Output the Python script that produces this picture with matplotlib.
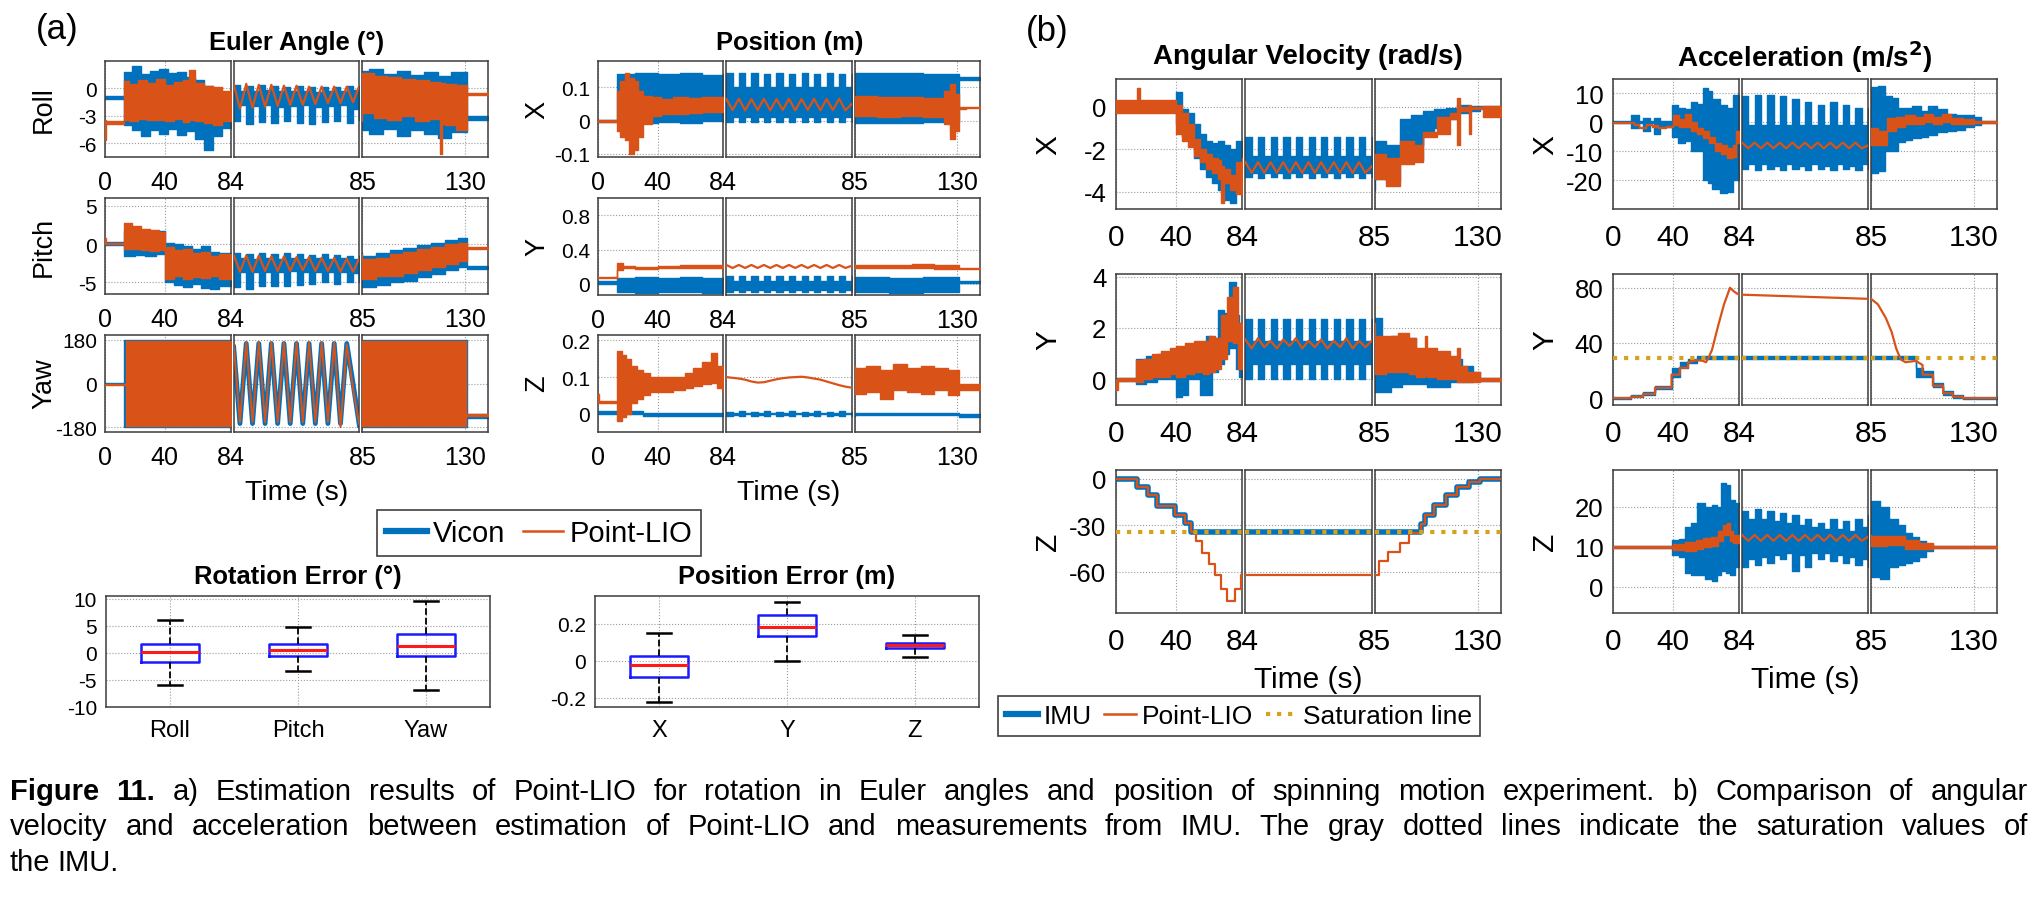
import matplotlib
matplotlib.use('Agg')
import matplotlib.pyplot as plt
from matplotlib import font_manager
from matplotlib.lines import Line2D

plt.rcParams['font.family'] = ['Liberation Sans', 'DejaVu Sans']
plt.rcParams['axes.unicode_minus'] = False

BLUE = '#0072BD'
ORANGE = '#D95319'
GOLD = '#D4A21C'
EDGE = '#3c3c3c'
W, H = 2036, 904

# ---------------- data ----------------
# time samples of the zoomed middle window 84 s - 85 s
t_mid = [84.0, 84.05, 84.1, 84.15, 84.2, 84.25, 84.3, 84.35, 84.4, 84.45, 84.5,
         84.55, 84.6, 84.65, 84.7, 84.75, 84.8, 84.85, 84.9, 84.95, 85.0]

# Roll (deg)
roll_vic_t = [0, 13, 18, 24, 30, 36, 42, 48, 54, 60, 66, 72, 78, 84,
              85, 88, 94, 100, 106, 112, 118, 124, 131, 140]
roll_vic_hi = [-0.8, 1.8, 2.4, 1.6, 1.9, 2.1, 1.7, 1.8, 1.2, 0.9, 0.3, -0.4, -0.9, -0.9,
               1.9, 2.1, 1.6, 1.9, 1.5, 1.8, 1.4, 1.8, -3.0, -3.0]
roll_vic_lo = [-1.2, -4.0, -4.6, -5.2, -4.6, -5.0, -4.4, -5.1, -4.7, -5.5, -6.7, -5.2, -4.3, -4.3,
               -4.6, -5.0, -4.4, -5.2, -4.6, -5.0, -5.4, -4.8, -3.4, -3.4]
roll_vic_mid_hi = [0.4, -0.3, 0.3, -0.3, 0.4, -0.2, 0.3, -0.3, 0.2, -0.3, 0.3,
                   -0.3, 0.2, -0.4, 0.2, -0.3, 0.2, -0.3, 0.3, -0.2, 0.3]
roll_vic_mid_lo = [-3.6, -1.8, -3.9, -1.9, -3.7, -1.8, -3.8, -2.0, -3.6, -1.9, -3.8,
                   -1.8, -3.9, -2.0, -3.7, -1.9, -3.6, -1.8, -3.8, -2.2, -3.5]
roll_lio_t = [0, 1, 2, 13, 16, 22, 28, 34, 40, 46, 52, 56, 60, 66, 72, 78, 84,
              85, 90, 96, 102, 108, 114, 119, 120, 121, 126, 131, 140]
roll_lio_hi = [-3.5, -3.55, -3.55, 0.8, 0.5, 0.9, 0.6, 1.0, 0.4, 0.7, 0.9, 2.0, 0.6, 0.3, 0.2, -0.3, -0.3,
               1.7, 1.4, 1.2, 1.0, 0.9, 0.7, 0.6, 0.6, 0.5, 0.4, -0.45, -0.45]
roll_lio_lo = [-5.6, -3.85, -3.85, -3.4, -3.6, -3.3, -3.5, -3.4, -3.6, -3.3, -3.7, -3.5, -3.6, -3.8, -4.0, -3.6, -3.6,
               -2.7, -3.2, -3.5, -3.0, -3.6, -3.3, -7.2, -3.9, -4.0, -4.6, -0.75, -0.75]
roll_lio_mid = [0.5, -2.2, 0.5, -2.1, 0.4, -2.0, 0.4, -1.9, 0.3, -1.8, 0.3,
                -1.8, 0.2, -1.7, 0.2, -1.6, 0.2, -1.6, 0.2, -1.5, 0.3]

# Pitch (deg)
pitch_vic_t = [0, 13, 20, 27, 34, 40, 46, 52, 58, 64, 70, 76, 84,
               85, 91, 97, 103, 109, 115, 121, 127, 131, 140]
pitch_vic_hi = [0.3, 1.7, 1.6, 1.5, 1.7, 0.2, 0.0, -0.3, -0.6, -0.2, -1.0, -1.2, -1.2,
                -1.6, -1.2, -0.8, -0.5, -0.1, 0.2, 0.5, 0.8, -2.8, -2.8]
pitch_vic_lo = [-0.1, -1.6, -1.4, -1.5, -1.3, -4.9, -5.3, -5.6, -5.2, -5.7, -5.9, -5.5, -5.5,
                -5.6, -5.3, -4.9, -4.8, -4.3, -3.9, -3.4, -3.0, -3.2, -3.2]
pitch_vic_mid_hi = [-1.2, -1.8, -1.3, -1.9, -1.2, -1.8, -1.3, -1.9, -1.2, -1.8, -1.3,
                    -1.9, -1.4, -1.8, -1.3, -1.9, -1.4, -1.8, -1.5, -2.0, -1.5]
pitch_vic_mid_lo = [-5.6, -3.6, -5.8, -3.6, -5.4, -3.7, -5.5, -3.6, -5.4, -3.5, -5.3,
                    -3.6, -5.2, -3.6, -5.0, -3.7, -5.2, -3.6, -5.0, -3.8, -5.0]
pitch_lio_t = [0, 1, 2, 13, 18, 24, 30, 36, 40, 46, 52, 58, 64, 70, 76, 84,
               85, 91, 97, 103, 109, 115, 121, 127, 131, 140]
pitch_lio_hi = [0.8, 0.2, 0.2, 2.8, 2.3, 2.0, 1.8, 1.6, -0.4, -0.8, -0.7, -1.2, -1.0, -1.5, -1.3, -1.3,
                -2.0, -1.8, -1.3, -1.0, -0.6, -0.4, 0.0, 0.2, -0.4, -0.4]
pitch_lio_lo = [0.0, 0.0, 0.0, -0.6, -0.7, -0.8, -0.9, -0.8, -4.5, -4.2, -4.6, -4.3, -4.4, -4.2, -4.5, -4.5,
                -4.6, -4.2, -4.1, -3.8, -3.4, -3.0, -2.6, -2.2, -0.7, -0.7]
pitch_lio_mid = [-1.4, -3.6, -1.5, -3.6, -1.5, -3.5, -1.6, -3.5, -1.6, -3.5, -1.7,
                 -3.4, -1.7, -3.5, -1.8, -3.5, -1.8, -3.6, -1.9, -3.6, -1.8]

# Yaw (deg)
yaw_vic_t = [0, 13, 84, 85, 131, 140]
yaw_vic_hi = [3, 180, 180, 180, -127, -127]
yaw_vic_lo = [-3, -180, -180, -180, -141, -141]
yaw_lio_t = [0, 14, 84, 85, 130.5, 140]
yaw_lio_hi = [-1, 176, 176, 176, -126, -126]
yaw_lio_lo = [-5, -176, -176, -176, -132, -132]
yaw_vic_mid = [150, -165, 165, -165, 165, -165, 165, -165, 165, -165, 165,
               -165, 165, -165, 165, -165, 165, -165, 165, 0, -172]
yaw_lio_mid = [160, -160, 170, -160, 170, -160, 170, -160, 170, -160, 170,
               -160, 170, -160, 170, -160, 170, -180, 160, -20, -170]

# Position X (m)
posx_vic_t = [0, 13, 25, 40, 55, 70, 84, 85, 100, 115, 131, 140]
posx_vic_hi = [0.003, 0.142, 0.145, 0.14, 0.143, 0.138, 0.14, 0.143, 0.145, 0.14, 0.131, 0.131]
posx_vic_lo = [-0.003, -0.004, -0.008, -0.003, -0.006, -0.002, -0.004, -0.006, -0.008, -0.005, 0.124, 0.124]
posx_vic_mid_hi = [0.143, 0.1, 0.143, 0.1, 0.143, 0.1, 0.142, 0.1, 0.143, 0.1, 0.142,
                   0.1, 0.143, 0.1, 0.142, 0.1, 0.143, 0.1, 0.142, 0.1, 0.142]
posx_vic_mid_lo = [-0.005, 0.012, -0.005, 0.012, -0.004, 0.012, -0.005, 0.012, -0.004, 0.012, -0.005,
                   0.012, -0.004, 0.012, -0.005, 0.012, -0.004, 0.012, -0.005, 0.012, -0.004]
posx_lio_t = [0, 13, 15, 18, 21, 24, 27, 30, 36, 42, 50, 60, 70, 84,
              85, 95, 105, 115, 124, 127, 129, 131, 134, 140]
posx_lio_hi = [0.003, 0.09, 0.12, 0.145, 0.13, 0.12, 0.09, 0.075, 0.07, 0.065, 0.07, 0.068, 0.07, 0.07,
               0.075, 0.07, 0.072, 0.068, 0.09, 0.11, 0.08, 0.04, 0.042, 0.045]
posx_lio_lo = [-0.003, -0.03, -0.05, -0.06, -0.1, -0.09, -0.05, -0.01, 0.015, 0.02, 0.02, 0.022, 0.025, 0.025,
               0.015, 0.012, 0.015, 0.012, -0.01, -0.055, -0.03, 0.035, 0.037, 0.04]
posx_lio_mid = [0.065, 0.032, 0.066, 0.031, 0.065, 0.032, 0.066, 0.031, 0.065, 0.032, 0.066,
                0.031, 0.065, 0.032, 0.066, 0.031, 0.065, 0.032, 0.066, 0.031, 0.05]

# Position Y (m)
posy_vic_t = [0, 13, 25, 40, 55, 70, 84, 85, 100, 115, 131, 140]
posy_vic_hi = [0.035, 0.07, 0.08, 0.07, 0.075, 0.07, 0.07, 0.075, 0.07, 0.075, 0.035, 0.035]
posy_vic_lo = [0.0, -0.1, -0.11, -0.1, -0.1, -0.11, -0.1, -0.1, -0.11, -0.1, 0.005, 0.005]
posy_vic_mid_hi = [0.09, 0.03, 0.09, 0.03, 0.09, 0.03, 0.09, 0.03, 0.09, 0.03, 0.09,
                   0.03, 0.09, 0.03, 0.09, 0.03, 0.09, 0.03, 0.09, 0.03, 0.09]
posy_vic_mid_lo = [-0.1, -0.07, -0.1, -0.07, -0.1, -0.07, -0.1, -0.07, -0.1, -0.07, -0.1,
                   -0.07, -0.1, -0.07, -0.1, -0.07, -0.1, -0.07, -0.1, -0.07, -0.1]
posy_lio_t = [0, 13, 17, 25, 40, 55, 70, 84, 85, 100, 110, 120, 131, 140]
posy_lio_hi = [0.085, 0.24, 0.21, 0.2, 0.21, 0.215, 0.22, 0.22, 0.22, 0.22, 0.235, 0.22, 0.185, 0.185]
posy_lio_lo = [0.065, 0.16, 0.18, 0.175, 0.18, 0.19, 0.19, 0.19, 0.185, 0.18, 0.185, 0.175, 0.17, 0.17]
posy_lio_mid = [0.22, 0.185, 0.22, 0.185, 0.22, 0.185, 0.22, 0.185, 0.22, 0.185, 0.22,
                0.185, 0.22, 0.185, 0.22, 0.185, 0.22, 0.185, 0.22, 0.185, 0.21]

# Position Z (m)
posz_vic_t = [0, 30, 84, 85, 131, 140]
posz_vic_hi = [0.007, 0.002, 0.002, 0.003, -0.002, -0.002]
posz_vic_lo = [0.0, -0.005, -0.005, -0.004, -0.01, -0.01]
posz_vic_mid_hi = [0.006, 0.003, 0.007, 0.002, 0.006, 0.003, 0.007, 0.002, 0.006, 0.003, 0.007,
                   0.002, 0.006, 0.003, 0.007, 0.002, 0.006, 0.003, 0.007, 0.002, 0.006]
posz_vic_mid_lo = [-0.006, -0.003, -0.007, -0.002, -0.006, -0.003, -0.007, -0.002, -0.006, -0.003, -0.007,
                   -0.002, -0.006, -0.003, -0.007, -0.002, -0.006, -0.003, -0.007, -0.002, -0.006]
posz_lio_t = [0, 1, 13, 16, 19, 22, 26, 30, 35, 42, 50, 58, 64, 70, 76, 80, 84,
              85, 90, 96, 102, 108, 114, 120, 126, 131, 140]
posz_lio_hi = [0.055, 0.035, 0.17, 0.16, 0.15, 0.13, 0.12, 0.11, 0.1, 0.1, 0.1, 0.11, 0.125, 0.14, 0.165, 0.13, 0.13,
               0.125, 0.13, 0.12, 0.135, 0.125, 0.13, 0.125, 0.12, 0.08, 0.08]
posz_lio_lo = [0.03, 0.03, -0.02, -0.01, 0.0, 0.03, 0.04, 0.05, 0.06, 0.06, 0.065, 0.07, 0.075, 0.08, 0.085, 0.07, 0.06,
               0.055, 0.06, 0.04, 0.065, 0.06, 0.055, 0.065, 0.05, 0.065, 0.065]
posz_lio_mid = [0.1, 0.098, 0.096, 0.093, 0.088, 0.085, 0.086, 0.09, 0.094, 0.097, 0.099,
                0.1, 0.101, 0.099, 0.096, 0.093, 0.088, 0.083, 0.078, 0.074, 0.071]

# Angular velocity X (rad/s)
angx_vic_t = [0, 40, 44, 48, 52, 56, 60, 64, 68, 72, 76, 80, 84,
              85, 90, 96, 101, 106, 111, 116, 121, 126, 131, 140]
angx_vic_hi = [0.05, 0.7, -0.1, -0.3, -0.8, -1.3, -1.6, -1.7, -1.6, -1.8, -2.0, -1.6, -1.6,
               -1.6, -1.8, -0.6, -0.4, -0.2, -0.1, -0.05, 0.1, 0.05, 0.03, 0.03]
angx_vic_lo = [-0.05, -0.8, -1.4, -1.6, -2.4, -2.9, -3.3, -3.6, -3.9, -4.4, -4.5, -3.9, -3.9,
               -3.4, -3.5, -2.4, -2.5, -1.2, -1.0, -0.6, -0.3, -0.2, -0.03, -0.03]
angx_vic_mid_hi = [-1.4, -2.3, -1.4, -2.3, -1.4, -2.3, -1.4, -2.3, -1.4, -2.3, -1.4,
                   -2.3, -1.4, -2.3, -1.4, -2.3, -1.4, -2.3, -1.4, -2.3, -1.4]
angx_vic_mid_lo = [-3.3, -3.1, -3.35, -3.1, -3.3, -3.1, -3.35, -3.1, -3.3, -3.1, -3.35,
                   -3.1, -3.3, -3.1, -3.35, -3.1, -3.3, -3.1, -3.35, -3.1, -3.3]
angx_lio_t = [0, 14, 16, 40, 44, 48, 52, 56, 60, 64, 68, 70, 72, 76, 80, 84,
              85, 90, 96, 102, 106, 112, 118, 121, 122, 126, 127, 132, 140]
angx_lio_hi = [0.3, 0.9, 0.3, 0.1, -0.3, -0.8, -1.5, -2.0, -2.2, -2.4, -2.5, -2.8, -2.9, -3.2, -2.6, -2.4,
               -2.2, -2.4, -1.6, -1.8, -1.2, -0.5, -0.3, 0.4, 0.0, 0.1, 0.0, 0.05, 0.05]
angx_lio_lo = [-0.3, -0.3, -0.3, -1.3, -1.6, -1.9, -2.3, -2.6, -2.9, -3.1, -3.4, -4.5, -3.6, -3.9, -4.1, -3.2,
               -3.4, -3.7, -2.7, -2.6, -1.4, -1.3, -0.6, -1.8, -0.2, -1.3, -0.1, -0.5, -0.03]
angx_lio_mid = [-2.6, -3.1, -2.6, -3.1, -2.6, -3.1, -2.6, -3.1, -2.6, -3.1, -2.6,
                -3.1, -2.6, -3.1, -2.6, -3.1, -2.6, -3.1, -2.6, -3.1, -2.8]

# Angular velocity Y (rad/s)
angy_vic_t = [0, 13, 20, 27, 34, 40, 44, 48, 52, 56, 60, 64, 68, 72, 75, 80, 82, 84,
              85, 88, 92, 97, 103, 108, 113, 118, 123, 128, 131, 140]
angy_vic_hi = [0.05, 0.8, 0.9, 1.0, 1.0, 1.1, 1.0, 1.2, 1.3, 1.4, 1.7, 1.6, 2.7, 2.6, 3.8, 2.5, 2.2, 2.2,
               2.4, 1.6, 1.7, 1.6, 1.1, 1.0, 0.9, 0.8, 0.5, 0.3, 0.05, 0.05]
angy_vic_lo = [-0.05, -0.2, -0.1, 0.0, 0.0, -0.7, -0.6, 0.0, 0.0, -0.6, -0.6, 0.3, 0.6, 1.0, 1.2, 0.4, 0.1, 0.1,
               -0.5, -0.5, -0.3, -0.2, -0.2, -0.3, -0.3, -0.1, -0.1, -0.05, -0.05, -0.05]
angy_vic_mid_hi = [2.35, 1.5, 2.35, 1.5, 2.35, 1.5, 2.35, 1.5, 2.35, 1.5, 2.35,
                   1.5, 2.35, 1.5, 2.35, 1.5, 2.35, 1.5, 2.35, 1.5, 2.35]
angy_vic_mid_lo = [0.0, 0.6, 0.0, 0.6, 0.0, 0.6, 0.0, 0.6, 0.0, 0.6, 0.0,
                   0.6, 0.0, 0.6, 0.0, 0.6, 0.0, 0.6, 0.0, 0.6, 0.0]
angy_lio_t = [0, 1, 13, 18, 24, 30, 36, 40, 46, 52, 58, 62, 66, 70, 74, 78, 81, 84,
              85, 90, 95, 100, 103, 107, 108, 112, 118, 121, 122, 125, 131, 140]
angy_lio_hi = [0.0, 0.05, 0.75, 0.8, 1.0, 1.1, 1.2, 1.3, 1.4, 1.5, 1.5, 1.7, 1.6, 2.5, 3.2, 3.6, 2.2, 2.2,
               1.7, 1.7, 1.8, 1.6, 1.2, 1.7, 1.2, 1.1, 0.9, 1.2, 0.5, 0.3, 0.05, 0.05]
angy_lio_lo = [-0.4, -0.05, -0.1, 0.0, 0.1, 0.1, 0.2, 0.1, 0.2, 0.3, 0.2, 0.3, 0.4, 0.8, 1.5, 1.4, 0.4, 0.4,
               0.2, 0.3, 0.3, 0.2, 0.1, 0.2, 0.1, 0.0, 0.0, -0.1, -0.1, -0.1, -0.05, -0.05]
angy_lio_mid = [1.55, 1.2, 1.6, 1.25, 1.5, 1.2, 1.55, 1.3, 1.6, 1.2, 1.5,
                1.25, 1.55, 1.2, 1.5, 1.25, 1.6, 1.2, 1.5, 1.25, 1.5]

# Angular velocity Z (rad/s)
angz_vic_t = [0, 14, 21.5, 27, 39, 46, 50, 84, 85, 105, 107, 111, 116, 121, 126, 131, 140]
angz_vic = [0, -5, -10.5, -17.5, -23, -28.5, -34, -34, -34, -29, -23, -17, -10.5, -5, -2, 0, 0]
angz_lio_t = [0, 14, 21.5, 27, 39, 46, 50, 53, 57, 62, 66, 70, 74, 79, 83, 84,
              85, 87, 91, 96, 100, 105, 107, 111, 116, 121, 126, 131, 140]
angz_lio = [0, -5, -10.5, -17.5, -23, -28.5, -34, -40, -48, -55, -62, -71, -79, -71, -62, -62,
            -62, -53, -47, -41, -35, -29, -23, -17, -10.5, -5, -2, 0, 0]
angz_sat = -34

# Acceleration X (m/s^2)
accx_vic_t = [0, 12, 17, 20, 24.5, 27, 31, 39, 43.5, 48, 52, 56, 60, 63, 66, 71, 76, 80, 84,
              85, 88, 91, 94, 97, 100, 103, 107, 110, 114, 118, 122, 126, 130, 133, 140]
accx_vic_hi = [0.3, 2.5, 0.3, 1.5, 0.3, 1.5, 0.5, 6, 5, 4.5, 7, 6.5, 12, 11, 8, 6, 5, 9.5, 9.5,
               12.3, 12.5, 9, 8.5, 4.8, 5, 5.5, 4, 5.5, 4.5, 3, 2.5, 2.5, 2, 0.3, 0.3]
accx_vic_lo = [-0.3, -2, -0.3, -3, -0.3, -4, -1.5, -5, -7, -6.5, -10, -10, -20, -21, -23, -24.5, -24, -20, -20,
               -17.5, -17, -10, -10, -6.7, -6, -5.5, -5, -4.5, -3.5, -3, -2.5, -1.5, -1, -0.3, -0.3]
accx_vic_mid_hi = [9, -1, 9.5, -1, 9.5, -1, 9, -1, 8, -1, 7,
                   -1, 6, -1, 7, -1, 6, -1, 5, -1, 5]
accx_vic_mid_lo = [-16, -14.5, -16.5, -14.5, -16, -15, -16.5, -14.5, -16, -15, -16.5,
                   -14.5, -16, -15, -16.5, -14.5, -16, -15, -16.5, -14.5, -16]
accx_lio_t = [0, 14, 17, 22, 26, 30, 35, 40, 44, 48, 52, 56, 60, 64, 68, 72, 76, 80, 82, 84,
              85, 88, 92, 96, 100, 104, 108, 112, 116, 120, 125, 130, 140]
accx_lio_hi = [0.2, -0.5, -1.5, -0.5, -1, -1.5, -1.2, 2.5, 1, 3, 0, -2, -3, -5, -7, -8, -9, -8, -3, -3,
               -2, -3, 1.5, 1.8, 2.5, 2, 2.8, 1.8, 3, 1.5, 1, 0.3, 0.2]
accx_lio_lo = [-0.2, -1.0, -2, -1, -1.5, -2, -1.6, -1, -1.5, -1.5, -3, -4, -5.5, -7, -10, -11, -12.5, -12, -7, -7,
               -8, -8, -3, -1.5, -0.5, -0.5, 0, -0.5, 0, -0.5, -0.5, -0.2, -0.2]
accx_lio_mid = [-7, -9, -7, -9, -7, -9, -7, -9, -7, -9, -7,
                -9, -7, -9, -7, -9, -7, -9, -7, -9, -8]

# Acceleration Y (m/s^2)
accy_vic_t = [0, 12, 20, 28, 39, 44.5, 50, 55.7, 84, 85, 104.6, 107.5, 112, 116.5, 120.7, 125, 140]
accy_vic_hi = [0.8, 2.3, 4.5, 9, 22, 26, 28.5, 30.5, 30.5, 30.5, 22, 20, 11, 5, 2, 0.8, 0.8]
accy_vic_lo = [-0.8, 0.7, 2.5, 6.5, 15, 22, 25.5, 28.2, 28.2, 28.2, 15, 15, 8, 2.5, 0.3, -0.8, -0.8]
accy_lio_t = [0, 12, 12, 20, 20, 28, 28, 39, 39, 44.5, 44.5, 50, 50, 56, 60, 62, 64, 66, 70, 74, 78, 81, 84,
              85, 88, 91.5, 94, 96, 98, 100, 104.6, 107.5, 107.5, 112, 112, 116.5, 116.5, 120.7, 120.7, 125, 125, 140]
accy_lio = [0, 0, 1, 1, 3, 3, 7.5, 7.5, 17, 17, 22, 22, 26, 27.5, 27, 26, 30, 35, 52, 68, 80, 77, 75,
            72, 68, 58, 48, 36, 28, 26, 27, 24, 17, 17, 9, 9, 3.5, 3.5, 1, 1, 0, 0]
accy_sat = 29.3

# Acceleration Z (m/s^2)
accz_vic_t = [0, 39, 44, 48, 52, 56, 61, 66, 69, 72, 75, 78, 81, 84,
              85, 89, 93, 97, 100, 103, 106, 109, 112, 140]
accz_vic_hi = [10.2, 11.7, 12, 15, 16, 21, 20, 20.5, 20, 26, 25.5, 21.7, 21, 21,
               21.5, 20, 17, 15.5, 13.5, 12.5, 11.5, 10.8, 10.2, 10.2]
accz_vic_lo = [9.8, 8, 7.5, 3.5, 3, 3, 2, 1.5, 3, 4, 3.5, 3, 5, 5,
               2.5, 2, 5, 5.5, 6, 6.5, 7.5, 9, 9.8, 9.8]
accz_vic_mid_hi = [19, 17, 19.5, 17, 19, 16.5, 18.5, 16, 18, 15.5, 17,
                   15, 16, 14.5, 17, 14.5, 16.5, 14, 17, 15, 18]
accz_vic_mid_lo = [5, 7, 5.5, 7.5, 6, 8, 7, 8.5, 4, 8, 5,
                   8.5, 7, 8.5, 6.5, 8, 6, 7.5, 5.5, 7, 5]
accz_lio_t = [0, 40, 48, 55, 60, 65, 70, 73, 76, 78, 80, 84, 85, 92, 100, 106, 112, 140]
accz_lio_hi = [10.2, 10.8, 11.2, 11.8, 12.3, 12.5, 14, 15.5, 16, 14, 13, 13, 12.8, 12.8, 11.8, 11, 10.2, 10.2]
accz_lio_lo = [9.8, 9.2, 9, 9.5, 10, 10.3, 11.5, 13, 13, 11.5, 11, 11, 10.3, 10.6, 9.6, 9.5, 9.8, 9.8]
accz_lio_mid = [13, 11.5, 13, 11.5, 13, 11.5, 13, 11.5, 13, 11.5, 13,
                11.5, 13, 11.5, 13, 11.5, 13, 11.5, 13, 11.5, 12.5]

# error statistics (box plots)
rot_labels = ['Roll', 'Pitch', 'Yaw']
rot_med = [0.2, 0.5, 1.2]
rot_q1 = [-1.7, -0.5, -0.5]
rot_q3 = [1.7, 1.7, 3.4]
rot_lo = [-6.0, -3.4, -6.8]
rot_hi = [6.1, 4.7, 9.6]
pos_labels = ['X', 'Y', 'Z']
pos_med = [-0.022, 0.18, 0.085]
pos_q1 = [-0.09, 0.135, 0.069]
pos_q3 = [0.027, 0.249, 0.094]
pos_lo = [-0.225, -0.004, 0.02]
pos_hi = [0.15, 0.32, 0.14]

caption = ["Figure 11. a) Estimation results of Point-LIO for rotation in Euler angles and position of "
           "spinning motion experiment. b) Comparison of angular",
           "velocity and acceleration between estimation of Point-LIO and measurements from IMU. "
           "The gray dotted lines indicate the saturation values of",
           "the IMU."]

# ---------------- figure ----------------
fig = plt.figure(figsize=(W / 100, H / 100), dpi=100)
SEGS = [(0, 84), (84, 85), (85, 140)]
STYLE = {'a': dict(xfs=18, yfs=15, xpad=9.4, ypad=5.8),
         'b': dict(xfs=21.5, yfs=18.5, xpad=9.8, ypad=7)}


def rect(x0, y0, x1, y1):
    return [x0 / W, 1 - y1 / H, (x1 - x0) / W, (y1 - y0) / H]


def ftext(x, y, s, **kw):
    kw.setdefault('ha', 'center')
    kw.setdefault('va', 'center')
    return fig.text(x / W, 1 - y / H, s, **kw)


def lbl(v):
    return '%g' % v


def style_axes(ax):
    for sp in ax.spines.values():
        sp.set_color(EDGE)
        sp.set_linewidth(1.1)
    ax.grid(True, ls=':', color='#9a9a9a', lw=0.8)
    ax.set_axisbelow(True)


def broken_axes(x0, y0, x1, y1, ylim, yticks, st):
    s = STYLE[st]
    gap = 3
    w = (x1 - x0 - 2 * gap) / 3
    xt = [[0, 40, 84], [], [85, 130]]
    axs = []
    for i, (a, b) in enumerate(SEGS):
        left = x0 + i * (w + gap)
        ax = fig.add_axes(rect(left, y0, left + w, y1))
        ax.set_xlim(a, b)
        ax.set_ylim(*ylim)
        ax.set_yticks(yticks, [lbl(v) for v in yticks])
        ax.set_xticks(xt[i], [lbl(v) for v in xt[i]])
        ax.tick_params(axis='x', labelsize=s['xfs'], pad=s['xpad'], direction='in', length=0)
        ax.tick_params(axis='y', labelsize=s['yfs'], pad=s['ypad'], direction='in', length=0,
                       labelleft=(i == 0))
        style_axes(ax)
        axs.append(ax)
    return axs


def band(axs, t, lo, hi, color, which=(0, 2), z=2):
    for i in which:
        axs[i].fill_between(t, lo, hi, step='post', facecolor=color, edgecolor=color,
                            lw=1.0, zorder=z)


def line(axs, t, y, color, lw, which=(0, 1, 2), z=3, ds='default'):
    for i in which:
        axs[i].plot(t, y, color=color, lw=lw, zorder=z, drawstyle=ds)


def sat(axs, y):
    for ax in axs:
        ax.axhline(y, color=GOLD, ls=':', lw=3, zorder=5)


# ---- (a) Euler angles ----
ax_roll = broken_axes(105, 62, 488, 158, (-7.5, 3), [-6, -3, 0], 'a')
band(ax_roll, roll_vic_t, roll_vic_lo, roll_vic_hi, BLUE)
band(ax_roll, t_mid, roll_vic_mid_lo, roll_vic_mid_hi, BLUE, which=(1,))
band(ax_roll, roll_lio_t, roll_lio_lo, roll_lio_hi, ORANGE, z=3)
line(ax_roll, t_mid, roll_lio_mid, ORANGE, 1.6, which=(1,))

ax_pitch = broken_axes(105, 199, 488, 295, (-6.5, 6), [-5, 0, 5], 'a')
band(ax_pitch, pitch_vic_t, pitch_vic_lo, pitch_vic_hi, BLUE)
band(ax_pitch, t_mid, pitch_vic_mid_lo, pitch_vic_mid_hi, BLUE, which=(1,))
band(ax_pitch, pitch_lio_t, pitch_lio_lo, pitch_lio_hi, ORANGE, z=3)
line(ax_pitch, t_mid, pitch_lio_mid, ORANGE, 1.6, which=(1,))

ax_yaw = broken_axes(105, 336, 488, 433, (-200, 200), [-180, 0, 180], 'a')
band(ax_yaw, yaw_vic_t, yaw_vic_lo, yaw_vic_hi, BLUE)
band(ax_yaw, yaw_lio_t, yaw_lio_lo, yaw_lio_hi, ORANGE, z=3)
line(ax_yaw, t_mid, yaw_vic_mid, BLUE, 3.5, which=(1,), z=2)
line(ax_yaw, t_mid, yaw_lio_mid, ORANGE, 1.4, which=(1,))

# ---- (a) Position ----
ax_px = broken_axes(598, 62, 980, 158, (-0.11, 0.18), [-0.1, 0, 0.1], 'a')
band(ax_px, posx_vic_t, posx_vic_lo, posx_vic_hi, BLUE)
band(ax_px, t_mid, posx_vic_mid_lo, posx_vic_mid_hi, BLUE, which=(1,))
band(ax_px, posx_lio_t, posx_lio_lo, posx_lio_hi, ORANGE, z=3)
line(ax_px, t_mid, posx_lio_mid, ORANGE, 1.6, which=(1,))

ax_py = broken_axes(598, 199, 980, 296, (-0.13, 1.0), [0, 0.4, 0.8], 'a')
band(ax_py, posy_vic_t, posy_vic_lo, posy_vic_hi, BLUE)
band(ax_py, t_mid, posy_vic_mid_lo, posy_vic_mid_hi, BLUE, which=(1,))
band(ax_py, posy_lio_t, posy_lio_lo, posy_lio_hi, ORANGE, z=3)
line(ax_py, t_mid, posy_lio_mid, ORANGE, 1.6, which=(1,))

ax_pz = broken_axes(598, 336, 980, 433, (-0.05, 0.215), [0, 0.1, 0.2], 'a')
band(ax_pz, posz_vic_t, posz_vic_lo, posz_vic_hi, BLUE)
band(ax_pz, t_mid, posz_vic_mid_lo, posz_vic_mid_hi, BLUE, which=(1,))
band(ax_pz, posz_lio_t, posz_lio_lo, posz_lio_hi, ORANGE, z=3)
line(ax_pz, t_mid, posz_lio_mid, ORANGE, 1.6, which=(1,))

# ---- (b) Angular velocity ----
ax_wx = broken_axes(1116, 80, 1501, 210, (-4.8, 1.3), [-4, -2, 0], 'b')
band(ax_wx, angx_vic_t, angx_vic_lo, angx_vic_hi, BLUE)
band(ax_wx, t_mid, angx_vic_mid_lo, angx_vic_mid_hi, BLUE, which=(1,))
band(ax_wx, angx_lio_t, angx_lio_lo, angx_lio_hi, ORANGE, z=3)
line(ax_wx, t_mid, angx_lio_mid, ORANGE, 1.6, which=(1,))

ax_wy = broken_axes(1116, 275, 1501, 406, (-1.0, 4.1), [0, 2, 4], 'b')
band(ax_wy, angy_vic_t, angy_vic_lo, angy_vic_hi, BLUE)
band(ax_wy, t_mid, angy_vic_mid_lo, angy_vic_mid_hi, BLUE, which=(1,))
band(ax_wy, angy_lio_t, angy_lio_lo, angy_lio_hi, ORANGE, z=3)
line(ax_wy, t_mid, angy_lio_mid, ORANGE, 1.6, which=(1,))

ax_wz = broken_axes(1116, 471, 1501, 614, (-86.5, 5.8), [-60, -30, 0], 'b')
line(ax_wz, angz_vic_t, angz_vic, BLUE, 4.0, z=2, ds='steps-post')
line(ax_wz, angz_lio_t, angz_lio, ORANGE, 1.6, ds='steps-post')
sat(ax_wz, angz_sat)

# ---- (b) Acceleration ----
ax_ax = broken_axes(1613, 80, 1997, 210, (-30, 15), [-20, -10, 0, 10], 'b')
band(ax_ax, accx_vic_t, accx_vic_lo, accx_vic_hi, BLUE)
band(ax_ax, t_mid, accx_vic_mid_lo, accx_vic_mid_hi, BLUE, which=(1,))
band(ax_ax, accx_lio_t, accx_lio_lo, accx_lio_hi, ORANGE, z=3)
line(ax_ax, t_mid, accx_lio_mid, ORANGE, 1.6, which=(1,))

ax_ay = broken_axes(1613, 275, 1997, 406, (-5, 90), [0, 40, 80], 'b')
band(ax_ay, accy_vic_t, accy_vic_lo, accy_vic_hi, BLUE, which=(0, 1, 2))
line(ax_ay, accy_lio_t, accy_lio, ORANGE, 1.6)
sat(ax_ay, accy_sat)

ax_az = broken_axes(1613, 471, 1997, 614, (-6.5, 29.2), [0, 10, 20], 'b')
band(ax_az, accz_vic_t, accz_vic_lo, accz_vic_hi, BLUE)
band(ax_az, t_mid, accz_vic_mid_lo, accz_vic_mid_hi, BLUE, which=(1,))
band(ax_az, accz_lio_t, accz_lio_lo, accz_lio_hi, ORANGE, z=3)
line(ax_az, t_mid, accz_lio_mid, ORANGE, 1.6, which=(1,))


# ---- box plots ----
def boxes(x0, y0, x1, y1, labels, med, q1, q3, lo, hi, ylim, yticks):
    ax = fig.add_axes(rect(x0, y0, x1, y1))
    stats = [dict(med=med[i], q1=q1[i], q3=q3[i], whislo=lo[i], whishi=hi[i], fliers=[])
             for i in range(len(labels))]
    ax.bxp(stats, widths=0.46, capwidths=0.19, showfliers=False,
           boxprops=dict(color='#1a1aff', lw=1.8),
           medianprops=dict(color='#ff1a1a', lw=2.2),
           whiskerprops=dict(color='black', ls='--', lw=1.3),
           capprops=dict(color='black', lw=1.8))
    ax.set_xlim(0.5, len(labels) + 0.5)
    ax.set_ylim(*ylim)
    ax.set_xticks(range(1, len(labels) + 1), labels)
    ax.set_yticks(yticks, [lbl(v) for v in yticks])
    ax.tick_params(axis='x', labelsize=17, pad=8.9, direction='in', length=0)
    ax.tick_params(axis='y', labelsize=15, pad=6.5, direction='in', length=0)
    style_axes(ax)
    return ax


boxes(106, 597, 490, 708, rot_labels, rot_med, rot_q1, rot_q3, rot_lo, rot_hi,
      (-10, 10.5), [-10, -5, 0, 5, 10])
boxes(595, 597, 979, 708, pos_labels, pos_med, pos_q1, pos_q3, pos_lo, pos_hi,
      (-0.25, 0.35), [-0.2, 0, 0.2])

# ---- titles, labels ----
ftext(57, 29, '(a)', fontsize=25)
ftext(1047, 32, '(b)', fontsize=25)
ftext(297, 43, 'Euler Angle (°)', fontsize=18.4, fontweight='bold')
ftext(790, 43, 'Position (m)', fontsize=18.4, fontweight='bold')
ftext(1308, 57, 'Angular Velocity (rad/s)', fontsize=20, fontweight='bold')
ftext(1805, 57, 'Acceleration (m/s$^\\mathbf{2}$)', fontsize=20, fontweight='bold')
ftext(298, 577, 'Rotation Error (°)', fontsize=18.4, fontweight='bold')
ftext(787, 577, 'Position Error (m)', fontsize=18.4, fontweight='bold')

for name, yc in [('Roll', 110), ('Pitch', 247), ('Yaw', 384)]:
    ftext(44, yc, name, fontsize=19.5, rotation=90)
for name, yc in [('X', 110), ('Y', 247), ('Z', 384)]:
    ftext(537, yc, name, fontsize=19.5, rotation=90)
for name, yc in [('X', 145), ('Y', 340), ('Z', 542)]:
    ftext(1048, yc, name, fontsize=21.5, rotation=90)
    ftext(1545, yc, name, fontsize=21.5, rotation=90)

ftext(297, 493, 'Time (s)', fontsize=20.5)
ftext(789, 493, 'Time (s)', fontsize=20.5)
ftext(1308, 680, 'Time (s)', fontsize=21.5)
ftext(1805, 680, 'Time (s)', fontsize=21.5)

# ---- legends ----
leg_a = fig.legend([Line2D([], [], color=BLUE, lw=4.5), Line2D([], [], color=ORANGE, lw=1.8)],
                   ['Vicon', 'Point-LIO'], loc='center', bbox_to_anchor=(539 / W, 1 - 534 / H),
                   ncol=2, fontsize=21, frameon=True, fancybox=False, edgecolor='#404040',
                   framealpha=1, handlelength=1.4, handletextpad=0.2, columnspacing=0.6,
                   borderpad=0.3)
leg_a.get_frame().set_linewidth(1.2)
leg_b = fig.legend([Line2D([], [], color=BLUE, lw=4.5), Line2D([], [], color=ORANGE, lw=1.8),
                    Line2D([], [], color=GOLD, lw=3, ls=':')],
                   ['IMU', 'Point-LIO', 'Saturation line'], loc='center',
                   bbox_to_anchor=(1239 / W, 1 - 717 / H), ncol=3, fontsize=19, frameon=True,
                   fancybox=False, edgecolor='#404040', framealpha=1, handlelength=1.2,
                   handletextpad=0.2, columnspacing=0.5, borderpad=0.3)
leg_b.get_frame().set_linewidth(1.2)

# ---- caption (justified) ----
names = {f.name for f in font_manager.fontManager.ttflist}
cap_family = 'Liberation Sans Narrow' if 'Liberation Sans Narrow' in names else 'Liberation Sans'
renderer = fig.canvas.get_renderer()
cap_y = [792, 827, 863]
for k, txt in enumerate(caption):
    words = txt.split(' ')
    items = []
    for j, wd in enumerate(words):
        bold = k == 0 and j < 2
        t = ftext(0, cap_y[k], wd, ha='left', fontsize=21, family=cap_family,
                  fontweight='bold' if bold else 'normal')
        items.append((t, t.get_window_extent(renderer).width))
    total = sum(w for _, w in items)
    if k < 2:
        gap = (2028 - 10 - total) / (len(items) - 1)
    else:
        gap = 7
    x = 10
    for t, w in items:
        t.set_x(x / W)
        x += w + gap

fig.savefig('out.png', dpi=100)
